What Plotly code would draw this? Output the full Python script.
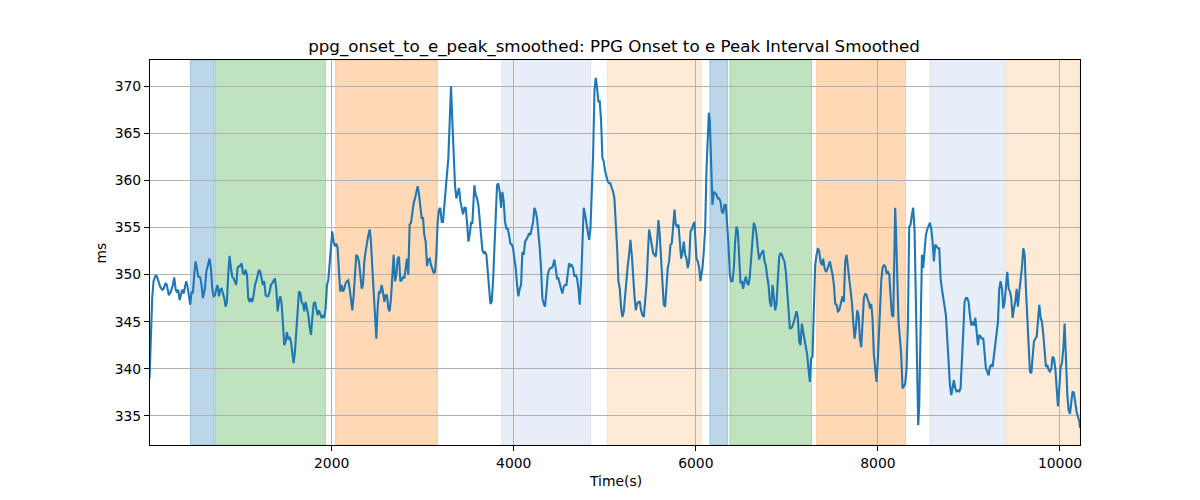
import plotly.graph_objects as go

time_s = [0, 29, 44, 66, 81, 95, 117, 139, 154, 176, 190, 212, 234, 256, 271, 286, 300, 315, 330, 344, 359, 374, 388, 403, 418, 432, 447, 462, 476, 491, 505, 520, 535, 557, 571, 586, 608, 623, 645, 659, 674, 689, 703, 718, 733, 747, 762, 777, 791, 806, 821, 835, 850, 864, 879, 894, 908, 923, 938, 952, 967, 982, 996, 1011, 1026, 1040, 1055, 1070, 1084, 1099, 1114, 1128, 1143, 1158, 1172, 1187, 1201, 1216, 1231, 1245, 1260, 1275, 1289, 1304, 1319, 1333, 1348, 1363, 1377, 1392, 1407, 1421, 1436, 1451, 1465, 1480, 1495, 1509, 1524, 1538, 1553, 1568, 1582, 1597, 1612, 1626, 1641, 1656, 1670, 1685, 1700, 1714, 1729, 1744, 1758, 1773, 1788, 1802, 1817, 1832, 1846, 1861, 1875, 1890, 1905, 1919, 1934, 1949, 1963, 1978, 1993, 2007,
          2022, 2037, 2051, 2066, 2081, 2095, 2110, 2125, 2139, 2154, 2168, 2183, 2198, 2212, 2227, 2242, 2256, 2271, 2286, 2300, 2315, 2330, 2344, 2359, 2374, 2388, 2403, 2418, 2432, 2447, 2462, 2476, 2491, 2505, 2520, 2535, 2549, 2564, 2579, 2593, 2608, 2623, 2637, 2652, 2667, 2681, 2696, 2711, 2725, 2740, 2755, 2769, 2784, 2799, 2813, 2828, 2842, 2857, 2872, 2886, 2901, 2916, 2930, 2945, 2960, 2974, 2989, 3004, 3018, 3033, 3048, 3062, 3077, 3092, 3106, 3121, 3136, 3150, 3165, 3179, 3194, 3209, 3223, 3238, 3253, 3267, 3282, 3297, 3311, 3326, 3341, 3355, 3370, 3385, 3399, 3414, 3429, 3443, 3458, 3472, 3487, 3502, 3516, 3531, 3546, 3560, 3568, 3582, 3597, 3612, 3626, 3641, 3656, 3670, 3685, 3700, 3714, 3729, 3744, 3758, 3773, 3788, 3802, 3817, 3831, 3846, 3861, 3875, 3890, 3905, 3919, 3934, 3949, 3963, 3978, 3993, 4007, 4022, 4037, 4051, 4066,
          4081, 4095, 4110, 4125, 4139, 4154, 4169, 4183, 4198, 4213, 4227, 4242, 4256, 4271, 4286, 4300, 4315, 4330, 4344, 4359, 4374, 4388, 4403, 4418, 4432, 4447, 4462, 4476, 4491, 4505, 4520, 4535, 4549, 4564, 4579, 4593, 4608, 4623, 4637, 4652, 4667, 4681, 4696, 4711, 4725, 4740, 4755, 4769, 4784, 4799, 4813, 4828, 4843, 4857, 4872, 4887, 4901, 4916, 4930, 4945, 4960, 4974, 4989, 5004, 5018, 5033, 5048, 5062, 5077, 5092, 5106, 5121, 5136, 5150, 5165, 5180, 5194, 5209, 5223, 5238, 5253, 5267, 5282, 5297, 5311, 5326, 5341, 5355, 5370, 5385, 5399, 5414, 5429, 5443, 5458, 5473, 5487, 5502, 5517, 5531, 5546, 5560, 5575, 5590, 5604, 5619, 5634, 5648, 5663, 5678, 5692, 5707, 5722, 5736, 5751, 5766, 5780, 5795, 5810, 5824, 5839, 5854, 5868, 5883, 5898, 5912, 5927, 5942, 5956, 5971, 5985, 5993, 6007, 6022, 6037, 6051,
          6073, 6088, 6103, 6117, 6132, 6143, 6154, 6169, 6183, 6198, 6212, 6227, 6242, 6256, 6271, 6286, 6300, 6315, 6330, 6344, 6359, 6374, 6388, 6403, 6418, 6432, 6447, 6462, 6476, 6491, 6506, 6520, 6535, 6549, 6564, 6579, 6593, 6608, 6623, 6637, 6652, 6667, 6681, 6696, 6711, 6725, 6740, 6755, 6769, 6784, 6799, 6813, 6828, 6843, 6857, 6872, 6886, 6901, 6916, 6930, 6945, 6960, 6974, 6989, 7004, 7018, 7033, 7048, 7062, 7077, 7092, 7106, 7121, 7136, 7150, 7165, 7180, 7194, 7209, 7223, 7238, 7253, 7267, 7282, 7297, 7311, 7326, 7341, 7355, 7370, 7385, 7399, 7414, 7429, 7443, 7458, 7473, 7487, 7502, 7517, 7531, 7546, 7561, 7575, 7590, 7604, 7612, 7626, 7641, 7656, 7670, 7685, 7700, 7714, 7729, 7744, 7758, 7773, 7788, 7802, 7817, 7832, 7846, 7861, 7876, 7890, 7905, 7912, 7927, 7941, 7956, 7971, 7985, 8000, 8015, 8029,
          8037, 8051, 8066, 8081, 8095, 8110, 8125, 8139, 8154, 8169, 8183, 8190, 8198, 8212, 8227, 8242, 8256, 8271, 8286, 8300, 8315, 8330, 8344, 8359, 8374, 8388, 8403, 8418, 8432, 8443, 8454, 8469, 8484, 8498, 8513, 8527, 8542, 8557, 8571, 8586, 8601, 8615, 8630, 8645, 8659, 8674, 8689, 8703, 8718, 8733, 8747, 8762, 8777, 8791, 8806, 8821, 8835, 8850, 8864, 8879, 8894, 8908, 8923, 8938, 8952, 8967, 8982, 8996, 9011, 9026, 9040, 9055, 9070, 9084, 9099, 9114, 9128, 9143, 9158, 9172, 9187, 9201, 9216, 9231, 9245, 9260, 9275, 9289, 9304, 9319, 9333, 9348, 9363, 9377, 9392, 9407, 9421, 9436, 9451, 9465, 9480, 9495, 9509, 9524, 9538, 9553, 9568, 9582, 9597, 9612, 9626, 9641, 9656, 9670, 9685, 9700, 9714, 9729, 9744, 9758, 9773, 9788, 9802, 9817, 9832, 9846, 9861, 9875, 9890, 9905, 9919, 9934, 9949, 9963, 9978, 9993, 10007, 10022, 10037, 10051, 10066, 10081, 10095, 10110, 10125, 10139, 10154, 10169, 10183, 10198, 10213, 10220]

interval_ms = [339.0, 347.5, 349.3, 349.9, 349.8, 349.3, 348.7, 348.4, 348.5, 349.1, 348.9, 347.8, 348.2, 348.9, 349.7, 348.5, 348.1, 348.4, 347.3, 347.8, 348.4, 348.0, 348.5, 349.3, 348.7, 347.8, 346.8, 348.2, 348.0, 350.0, 351.4, 350.7, 349.8, 349.7, 348.9, 347.5, 348.5, 350.3, 351.2, 351.7, 350.7, 348.5, 347.7, 347.8, 348.5, 348.9, 347.7, 348.4, 348.5, 347.9, 347.5, 346.6, 347.1, 350.0, 352.0, 350.7, 349.8, 349.6, 349.1, 348.9, 350.7, 350.9, 350.9, 351.2, 350.2, 350.0, 350.5, 350.0, 347.5, 347.1, 347.5, 347.1, 347.8, 348.9, 349.3, 349.8, 350.5, 350.3, 349.6, 348.9, 349.3, 347.8, 347.7, 347.7, 348.2, 348.9, 349.1, 349.3, 349.6, 348.5, 346.1, 347.1, 347.7, 346.9, 345.0, 342.5, 342.9, 343.9, 343.1, 343.4, 342.9, 341.6, 340.6, 341.8, 343.9, 346.4, 348.2, 348.1, 347.1, 346.9, 346.1, 347.1, 346.4, 345.7, 344.5, 343.6, 345.4, 346.9, 347.1, 346.1, 345.7, 346.2, 345.7, 345.4, 345.7, 345.4, 346.4, 348.9, 349.4, 351.4, 353.2, 354.6,
               353.5, 353.0, 353.3, 352.8, 350.3, 348.2, 348.9, 348.2, 348.5, 349.1, 349.3, 349.4, 348.5, 347.1, 346.2, 347.8, 350.3, 352.1, 351.9, 351.4, 350.0, 348.5, 348.9, 351.4, 352.5, 353.5, 354.2, 354.8, 353.5, 350.7, 347.8, 344.6, 343.2, 346.4, 348.2, 348.1, 348.9, 348.2, 347.1, 347.8, 347.8, 346.4, 346.1, 347.5, 350.3, 352.1, 349.3, 350.0, 351.7, 351.9, 349.3, 349.4, 349.8, 349.6, 350.7, 351.7, 350.0, 355.3, 355.5, 356.7, 357.6, 358.1, 358.7, 359.4, 358.5, 357.4, 356.0, 356.0, 354.2, 353.5, 350.9, 351.6, 351.7, 351.0, 350.7, 350.2, 350.3, 352.1, 355.6, 356.9, 357.1, 355.6, 355.6, 357.4, 359.9, 361.0, 362.4, 366.3, 370.0, 366.3, 361.7, 359.5, 358.1, 358.8, 359.2, 357.8, 357.1, 356.4, 357.1, 357.1, 355.6, 353.5, 354.2, 355.5, 355.5, 358.1, 359.5, 358.5, 358.1, 357.4, 356.0, 354.2, 352.6, 352.3, 352.4, 352.1, 350.3, 348.5, 346.9, 347.1, 349.3, 352.8, 355.6, 359.5, 359.7, 358.8, 357.1, 358.8, 357.8, 355.6, 354.9, 354.9, 354.2, 353.3, 353.2, 352.8, 351.7, 350.7, 348.9, 347.7, 348.5,
               348.9, 352.4, 352.1, 353.5, 353.7, 354.0, 354.4, 354.2, 354.9, 355.6, 357.1, 356.7, 356.0, 354.6, 352.8, 350.7, 347.5, 346.9, 346.6, 348.2, 350.0, 350.5, 350.7, 350.7, 351.0, 351.6, 350.7, 349.6, 349.6, 348.9, 348.5, 348.0, 348.7, 348.9, 348.9, 350.0, 351.2, 350.9, 351.0, 350.7, 349.8, 350.0, 349.6, 348.5, 346.8, 349.3, 353.5, 357.1, 356.4, 355.6, 354.6, 353.7, 354.9, 358.1, 362.7, 369.5, 370.9, 369.8, 368.4, 368.4, 366.3, 362.4, 362.0, 361.0, 360.3, 359.9, 359.7, 359.7, 359.2, 358.8, 358.1, 355.6, 352.8, 349.3, 348.5, 346.4, 345.5, 346.1, 347.8, 349.6, 351.0, 352.1, 353.7, 352.1, 349.3, 347.8, 346.2, 346.9, 347.1, 347.1, 346.2, 345.7, 345.5, 347.1, 348.9, 352.1, 354.8, 354.0, 353.3, 352.3, 352.1, 351.9, 353.5, 355.8, 354.2, 351.4, 348.5, 346.8, 346.6, 348.5, 350.7, 351.4, 353.2, 353.3, 355.6, 356.9, 355.3, 355.1, 355.3, 353.5, 351.7, 352.4, 353.5, 352.1, 351.7, 350.7, 351.4, 354.6, 354.8, 355.3, 355.6, 354.2, 351.7, 351.4, 350.7, 349.3,
               350.7, 352.5, 354.9, 361.0, 364.2, 367.2, 366.3, 362.7, 357.4, 358.8, 358.7, 358.5, 358.1, 358.1, 357.8, 356.7, 356.5, 357.4, 357.4, 355.6, 353.2, 350.0, 349.3, 349.3, 350.7, 353.5, 355.1, 354.6, 352.1, 349.1, 349.3, 348.5, 349.3, 349.8, 349.1, 348.9, 349.8, 352.1, 354.6, 355.5, 355.1, 354.2, 352.8, 351.6, 352.1, 352.3, 352.6, 351.4, 351.0, 349.8, 348.9, 347.1, 346.6, 348.9, 347.5, 346.2, 346.9, 349.3, 351.9, 352.3, 352.1, 351.7, 351.4, 350.3, 348.5, 346.4, 344.3, 344.3, 344.5, 345.0, 345.5, 346.1, 345.4, 342.9, 342.5, 344.8, 343.9, 343.2, 342.2, 341.5, 340.0, 338.6, 341.1, 341.3, 346.4, 351.0, 352.1, 352.8, 352.5, 351.4, 351.0, 351.7, 350.7, 350.3, 350.5, 351.0, 351.4, 350.7, 350.0, 348.9, 346.9, 346.8, 346.1, 346.2, 346.8, 347.1, 347.7, 347.1, 351.4, 352.1, 351.0, 349.3, 348.5, 347.1, 345.0, 343.2, 344.3, 346.2, 345.7, 343.2, 342.3, 345.0, 347.5, 348.0, 347.8, 347.3, 346.9, 346.4, 346.9, 345.4, 341.5, 340.0, 338.6, 341.1, 344.6, 349.3,
               349.3, 350.7, 351.0, 350.9, 350.2, 350.3, 350.0, 347.8, 345.7, 345.5, 351.4, 357.1, 354.9, 348.9, 345.0, 343.2, 341.5, 337.9, 338.1, 338.4, 340.0, 345.0, 355.1, 355.3, 356.4, 357.1, 354.6, 345.7, 336.1, 334.0, 336.1, 343.2, 352.1, 350.7, 352.4, 354.2, 354.8, 355.3, 355.5, 354.9, 353.5, 351.4, 353.2, 353.0, 352.8, 352.8, 349.6, 348.5, 347.5, 346.4, 345.7, 343.2, 340.4, 338.3, 337.2, 338.3, 338.8, 337.9, 337.6, 337.7, 337.6, 337.9, 340.4, 343.9, 347.1, 347.5, 347.5, 347.1, 345.7, 344.6, 345.0, 344.6, 345.4, 343.9, 342.5, 343.6, 343.4, 343.2, 343.2, 341.1, 340.0, 339.7, 339.3, 340.2, 340.4, 340.2, 341.5, 342.9, 343.6, 345.0, 348.5, 349.3, 348.5, 346.4, 347.1, 348.5, 350.3, 348.5, 348.2, 347.5, 345.4, 346.4, 347.1, 348.5, 346.6, 348.2, 349.3, 350.7, 352.8, 352.1, 348.5, 345.0, 341.5, 339.7, 339.5, 341.5, 342.9, 343.2, 343.4, 345.0, 346.8, 345.4, 345.0, 343.6, 342.2, 340.2, 340.4, 339.9, 339.7, 340.0, 341.3, 341.1, 340.0, 337.6, 336.0, 337.9, 340.2, 340.6, 342.2, 344.8, 339.7, 337.2, 335.6, 335.2, 336.5, 337.6, 337.4, 336.1, 335.4, 334.9, 334.4, 333.7]

span_start = [450, 725, 2044, 3868, 5030, 6154, 6374, 7328, 8571, 9414]
span_end = [711, 1932, 3162, 4845, 6060, 6350, 7272, 8305, 9400, 10220]
span_color = ["#1f77b4", "#2ca02c", "#ff7f0e", "#aec7e8", "#ffbb78",
              "#1f77b4", "#2ca02c", "#ff7f0e", "#aec7e8", "#ffbb78"]

x_ticks = [2000, 4000, 6000, 8000, 10000]
x_tick_labels = ["2000", "4000", "6000", "8000", "10000"]
y_ticks = [335, 340, 345, 350, 355, 360, 365, 370]

TITLE = "ppg_onset_to_e_peak_smoothed: PPG Onset to e Peak Interval Smoothed"


def rgba(hex_color, a):
    h = hex_color.lstrip("#")
    r, g, b = int(h[0:2], 16), int(h[2:4], 16), int(h[4:6], 16)
    return f"rgba({r},{g},{b},{a})"


fig = go.Figure()

for s, e, c in zip(span_start, span_end, span_color):
    fig.add_vrect(x0=s, x1=e, fillcolor=rgba(c, 0.3), layer="below",
                  line=dict(color=rgba(c, 0.3), width=1))

fig.add_trace(go.Scatter(x=time_s, y=interval_ms, mode="lines",
                         line=dict(color="#1f77b4", width=2.1),
                         showlegend=False, hoverinfo="skip"))

font = "DejaVu Sans, sans-serif"
axis_common = dict(
    showgrid=True, gridcolor="#b0b0b0", gridwidth=1.1,
    showline=True, linecolor="black", linewidth=1.1, mirror=True,
    ticks="outside", ticklen=5, tickwidth=1.1, tickcolor="black",
    tickfont=dict(family=font, size=13.9, color="black"),
    zeroline=False,
)

# page body adds an ~8px offset; margins compensate so the plot lands where the reference has it
fig.update_layout(
    width=1200, height=500,
    margin=dict(l=142, r=128, t=52, b=63),
    plot_bgcolor="white", paper_bgcolor="white",
    title=dict(text=TITLE, x=0.505, xanchor="center", y=0.924, yanchor="middle",
               font=dict(family=font, size=16.7, color="black")),
    xaxis=dict(range=[5, 10220], tickvals=x_ticks, ticktext=x_tick_labels, **axis_common),
    yaxis=dict(range=[331.9, 372.8], tickvals=y_ticks, **axis_common),
    annotations=[
        dict(text="Time(s)", xref="paper", yref="paper", x=0.5, y=-0.0935,
             xanchor="center", yanchor="middle", showarrow=False,
             font=dict(family=font, size=13.9, color="black")),
        dict(text="ms", xref="paper", yref="paper", x=-0.0527, y=0.5,
             xanchor="center", yanchor="middle", showarrow=False, textangle=-90,
             font=dict(family=font, size=13.9, color="black")),
    ],
)

fig.write_html("out.html")
